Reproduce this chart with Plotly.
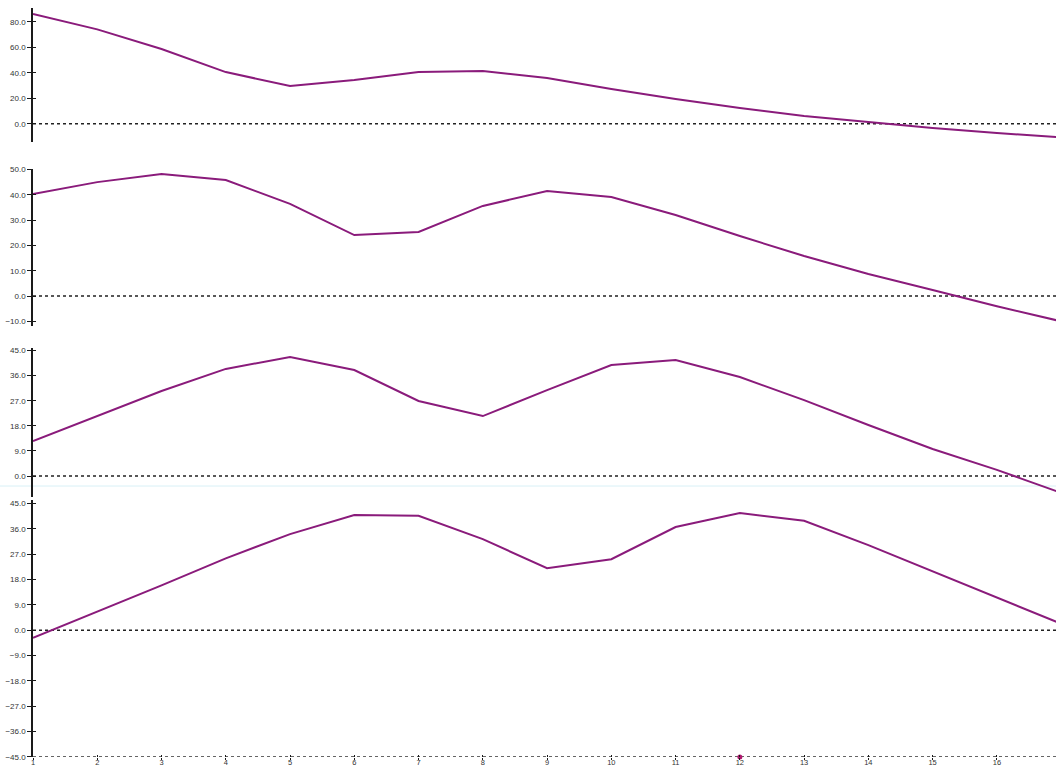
import plotly.graph_objects as go

# Sample index shared by all four traces
steps = list(range(1, 18))

# Four stacked series
series_a = [86.0, 74.0, 58.6, 40.5, 29.6, 34.3, 40.5, 41.3, 35.8, 27.2, 19.4, 12.3, 6.0, 1.3, -3.4, -7.3, -10.7]
series_b = [40.3, 45.0, 48.2, 45.8, 36.4, 24.1, 25.3, 35.6, 41.5, 39.1, 32.0, 23.7, 15.8, 8.7, 2.4, -4.0, -10.0]
series_c = [12.5, 21.5, 30.5, 38.4, 42.7, 38.0, 26.9, 21.5, 30.8, 39.8, 41.6, 35.5, 27.2, 18.3, 9.7, 2.2, -6.0]
series_d = [-2.7, 6.6, 15.9, 25.5, 34.1, 40.9, 40.6, 32.3, 22.0, 25.2, 36.6, 41.6, 38.8, 30.2, 20.9, 11.6, 2.3]

# Per-panel axis settings: value range, tick values
panel_ranges = [[-14.35, 90.75], [-11.7, 50.2], [-7.5, 45.9], [-45.0, 46.2]]
panel_ticks = [
    [0, 20, 40, 60, 80],
    [-10, 0, 10, 20, 30, 40, 50],
    [0, 9, 18, 27, 36, 45],
    [-45, -36, -27, -18, -9, 0, 9, 18, 27, 36, 45],
]
panel_domains = [[0.8124, 0.9894], [0.5698, 0.7768], [0.3435, 0.5403], [0.0, 0.3395]]

marker_step = 12  # highlighted sample on the bottom axis

LINE = "#8a1b7b"
AXIS = "#1a1a1a"
X_RANGE = [1, 16.92]
FONT = dict(family="Liberation Sans, Arial, sans-serif", size=8, color="#333333")
XFONT = dict(family="Liberation Sans, Arial, sans-serif", size=7.5, color="#333333")

fig = go.Figure()
all_series = [series_a, series_b, series_c, series_d]
for i, ys in enumerate(all_series, start=1):
    sfx = "" if i == 1 else str(i)
    fig.add_trace(go.Scatter(
        x=steps, y=ys, mode="lines",
        line=dict(color=LINE, width=2),
        xaxis="x" + sfx, yaxis="y" + sfx,
        hoverinfo="skip", showlegend=False,
    ))

# Empty traces that attach the overlay axes (inner half of each cross tick)
for i in range(1, 5):
    sfx = "" if i == 1 else str(i)
    fig.add_trace(go.Scatter(
        x=[None], y=[None], mode="lines",
        xaxis="x" + sfx, yaxis="y" + str(4 + i),
        hoverinfo="skip", showlegend=False,
    ))
fig.add_trace(go.Scatter(
    x=[None], y=[None], mode="lines",
    xaxis="x5", yaxis="y4",
    hoverinfo="skip", showlegend=False,
))

# Highlighted sample on the bottom axis
fig.add_trace(go.Scatter(
    x=[marker_step], y=[panel_ranges[3][0]], mode="markers",
    marker=dict(color="#b0186e", size=5),
    xaxis="x4", yaxis="y4", cliponaxis=False,
    hoverinfo="skip", showlegend=False,
))

layout = dict(
    width=1056, height=769,
    margin=dict(l=33, r=0, t=0, b=12, autoexpand=False),
    paper_bgcolor="white", plot_bgcolor="white",
    font=FONT,
)

for i in range(1, 5):
    sfx = "" if i == 1 else str(i)
    bottom = i == 4
    layout["xaxis" + sfx] = dict(
        domain=[0, 1], range=X_RANGE, anchor="y" + sfx, automargin=False,
        showgrid=False, zeroline=False,
        showline=False,
        tickmode="array", tickvals=steps[:16],
        ticks="outside" if bottom else "", ticklen=2, tickwidth=1, tickcolor=AXIS,
        ticklabelstandoff=-4,
        showticklabels=bottom, tickfont=XFONT,
    )
    layout["yaxis" + sfx] = dict(
        domain=panel_domains[i - 1], range=panel_ranges[i - 1], anchor="x" + sfx,
        automargin=False,
        showgrid=False, zeroline=False,
        showline=True, linecolor=AXIS, linewidth=1.5,
        tickmode="array", tickvals=panel_ticks[i - 1], tickformat=".1f",
        ticks="outside", ticklen=4, tickwidth=1, tickcolor=AXIS,
        tickfont=FONT,
    )
    # Overlay axis drawing the inward half of the cross ticks
    layout["yaxis" + str(4 + i)] = dict(
        overlaying="y" + sfx, range=panel_ranges[i - 1], anchor="x" + sfx,
        automargin=False,
        side="left", showgrid=False, zeroline=False, showline=False,
        tickmode="array", tickvals=panel_ticks[i - 1],
        ticks="inside", ticklen=3, tickwidth=1, tickcolor=AXIS,
        showticklabels=False,
    )

layout["xaxis5"] = dict(
    overlaying="x4", range=X_RANGE, anchor="y4", side="bottom", automargin=False,
    showgrid=False, zeroline=False, showline=False,
    tickmode="array", tickvals=steps[:16],
    ticks="inside", ticklen=2, tickwidth=1, tickcolor=AXIS,
    showticklabels=False,
)

shapes = []
# Dotted zero reference line in every panel
for i in range(1, 5):
    sfx = "" if i == 1 else str(i)
    shapes.append(dict(
        type="line", xref="x" + sfx + " domain", yref="y" + sfx,
        x0=0, x1=1, y0=0, y1=0,
        line=dict(color="#222222", width=1.4, dash="dot"),
        layer="below",
    ))
# Dotted baseline along the bottom axis
shapes.append(dict(
    type="line", xref="x4 domain", yref="y4",
    x0=0, x1=1, y0=panel_ranges[3][0], y1=panel_ranges[3][0],
    line=dict(color="#333333", width=1.4, dash="dot"),
    layer="below",
))
# Faint cyan rule between the third and fourth panels
shapes.append(dict(
    type="line", xref="paper", yref="paper",
    x0=-0.04, x1=1, y0=(757 - 486) / 757, y1=(757 - 486) / 757,
    line=dict(color="#d8f0f6", width=1),
    layer="below",
))
layout["shapes"] = shapes

fig.update_layout(**layout)
fig.write_html("out.html")
